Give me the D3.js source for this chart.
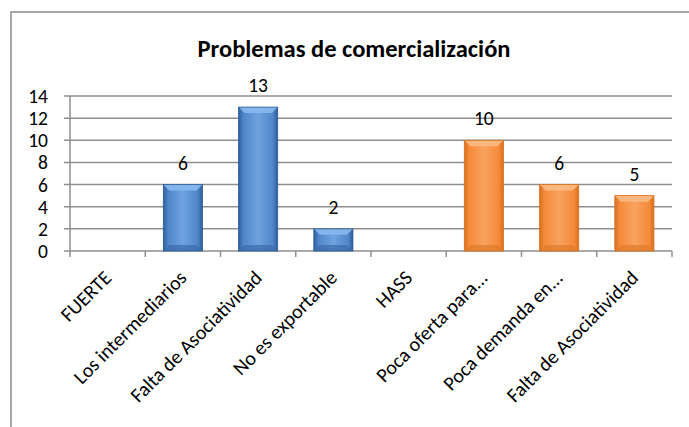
<!DOCTYPE html>
<html><head><meta charset="utf-8">
<script src="https://cdn.jsdelivr.net/npm/d3@7"></script>
<style>
html,body{margin:0;padding:0;background:#fff;}
svg{display:block;font-family:Carlito,Calibri,Lato,"Open Sans",sans-serif;}
</style></head>
<body><svg id="c" width="689" height="427"></svg>
<script>
const title = "Problemas de comercialización";
const categories = ["FUERTE","Los intermediarios","Falta de Asociatividad","No es exportable","HASS","Poca oferta para...","Poca demanda en...","Falta de Asociatividad"];
const values = [null, 6, 13, 2, null, 10, 6, 5];
const groups = ["blue","blue","blue","blue","orange","orange","orange","orange"];
const yTicks = [0,2,4,6,8,10,12,14];

const svg = d3.select("#c");
const m = {left:70, right:672, top:96, bottom:251};

// frame
svg.append("rect").attr("x",11).attr("y",12).attr("width",720).attr("height",440)
  .attr("fill","#fff").attr("stroke","#8c8c8c").attr("stroke-width",1.5);

const x = d3.scaleBand().domain(d3.range(categories.length)).range([m.left,m.right]).padding(0);
const y = d3.scaleLinear().domain([0,14]).range([m.bottom,m.top]);

const defs = svg.append("defs");
const pal = {
  blue:{edge:"#2c5c97",mid:"#4f86c9",light:"#6fa3e0",top:"#8ab8ee",bot:"#3a6aa8"},
  orange:{edge:"#d66f1f",mid:"#f58a3a",light:"#f8a25e",top:"#fbbb84",bot:"#e07a2a"}
};
Object.entries(pal).forEach(([k,p])=>{
  const g = defs.append("linearGradient").attr("id","g_"+k).attr("x1","0").attr("x2","1").attr("y1","0").attr("y2","0");
  g.append("stop").attr("offset","0").attr("stop-color",p.edge);
  g.append("stop").attr("offset","0.12").attr("stop-color",p.mid);
  g.append("stop").attr("offset","0.5").attr("stop-color",p.light);
  g.append("stop").attr("offset","0.88").attr("stop-color",p.mid);
  g.append("stop").attr("offset","1").attr("stop-color",p.edge);
});

// gridlines
svg.append("g").selectAll("line").data(yTicks).join("line")
  .attr("x1",m.left-6).attr("x2",m.right).attr("y1",d=>y(d)).attr("y2",d=>y(d))
  .attr("stroke","#8f8f8f").attr("stroke-width",1.5);
// y axis
svg.append("line").attr("x1",m.left).attr("x2",m.left).attr("y1",m.top).attr("y2",m.bottom)
  .attr("stroke","#8f8f8f").attr("stroke-width",1.5);
svg.append("g").selectAll("text").data(yTicks).join("text")
  .attr("x",48).attr("y",d=>y(d)).attr("dy","0.36em").attr("text-anchor","end")
  .attr("font-size",19.5).attr("fill","#000").text(d=>d);
// x axis ticks
const bounds = d3.range(categories.length+1).map(i=> i<categories.length ? x(i) : m.right);
svg.append("g").selectAll("line").data(bounds).join("line")
  .attr("x1",d=>d).attr("x2",d=>d).attr("y1",m.bottom).attr("y2",m.bottom+6)
  .attr("stroke","#8f8f8f").attr("stroke-width",1.5);

// bars
const bw = x.bandwidth()*0.52;
const data = categories.map((c,i)=>({i,c,v:values[i],g:groups[i]})).filter(d=>d.v!=null);
const bars = svg.append("g").selectAll("g").data(data).join("g");
bars.each(function(d){
  const g = d3.select(this);
  const x0 = x(d.i)+(x.bandwidth()-bw)/2, x1 = x0+bw;
  const y0 = y(d.v), y1 = y(0);
  const p = pal[d.g];
  const b = Math.min(6,(y1-y0)/2);
  g.append("rect").attr("x",x0).attr("y",y0).attr("width",bw).attr("height",y1-y0).attr("fill","url(#g_"+d.g+")");
  g.append("path").attr("d",`M${x0},${y0}L${x1},${y0}L${x1-b},${y0+b}L${x0+b},${y0+b}Z`).attr("fill",p.top).attr("opacity",0.9);
  g.append("path").attr("d",`M${x0},${y1}L${x1},${y1}L${x1-b},${y1-b}L${x0+b},${y1-b}Z`).attr("fill",p.bot).attr("opacity",0.7);
  g.append("rect").attr("x",x0).attr("y",y0).attr("width",bw).attr("height",y1-y0).attr("fill","none").attr("stroke",p.edge).attr("stroke-width",0.8);
});
// data labels
svg.append("g").selectAll("text").data(data).join("text")
  .attr("x",d=>x(d.i)+x.bandwidth()/2).attr("y",d=>y(d.v)-15)
  .attr("text-anchor","middle").attr("font-size",19.5).attr("fill","#000").text(d=>d.v);

// category labels
svg.append("g").selectAll("text").data(categories).join("text")
  .attr("transform",(d,i)=>`translate(${x(i)+x.bandwidth()/2+5},${m.bottom+28}) rotate(-45)`)
  .attr("text-anchor","end").attr("font-size",20).attr("fill","#000").text(d=>d);

// title
svg.append("text").attr("x",354).attr("y",57).attr("text-anchor","middle")
  .attr("font-size",24.5).attr("font-weight","bold").attr("fill","#000").text(title);
</script></body></html>
